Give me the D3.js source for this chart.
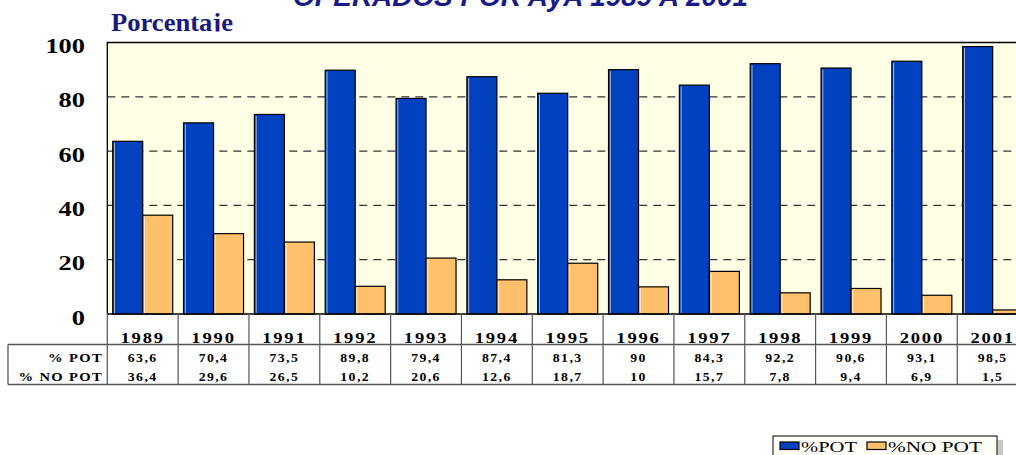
<!DOCTYPE html>
<html><head><meta charset="utf-8">
<script src="https://cdn.jsdelivr.net/npm/d3@7"></script>
<style>html,body{margin:0;padding:0;background:#fff;overflow:hidden}</style>
</head><body>
<svg id="c" width="1016" height="455"></svg>
<script>
const years = ["1989","1990","1991","1992","1993","1994","1995","1996","1997","1998","1999","2000","2001"];
const pot   = [63.6,70.4,73.5,89.8,79.4,87.4,81.3,90,84.3,92.2,90.6,93.1,98.5];
const noPot = [36.4,29.6,26.5,10.2,20.6,12.6,18.7,10,15.7,7.8,9.4,6.9,1.5];
const potLabels   = ["63,6","70,4","73,5","89,8","79,4","87,4","81,3","90","84,3","92,2","90,6","93,1","98,5"];
const noPotLabels = ["36,4","29,6","26,5","10,2","20,6","12,6","18,7","10","15,7","7,8","9,4","6,9","1,5"];
const yTicks = [0,20,40,60,80,100];
const seriesNames = ["% POT","% NO POT"];
const legendNames = ["%POT","%NO POT"];
const colors = ["#0041C0","#FFC06C"];

const svg = d3.select("#c");
const pLeft = 107.3, step = 70.83, pTop = 42.5, pBottom = 314;
const pRight = pLeft + step*years.length;

const x = d3.scaleBand().domain(years).range([pLeft,pRight]).paddingInner(0.153).paddingOuter(0.0765);
const xs = d3.scaleBand().domain([0,1]).range([0,x.bandwidth()]);
const y = d3.scaleLinear().domain([0,100]).range([pBottom,pTop]);

// horizontal stretch helper (reference glyphs are wide)
function stretch(sel, f){
  sel.each(function(){
    const w = this.getComputedTextLength();
    d3.select(this).attr("textLength", w*f).attr("lengthAdjust","spacingAndGlyphs");
  });
}

// plot background
svg.append("rect").attr("x",pLeft).attr("y",pTop).attr("width",pRight-pLeft).attr("height",pBottom-pTop).attr("fill","#FFFFE6");

// gridlines
svg.append("g").selectAll("line").data(yTicks.filter(d=>d>0 && d<100)).join("line")
  .attr("x1",pLeft).attr("x2",pRight).attr("y1",d=>y(d)).attr("y2",d=>y(d))
  .attr("stroke","#333").attr("stroke-width",1.2).attr("stroke-dasharray","8,6");

// bars
const data = years.map((yr,i)=>({yr, vals:[pot[i],noPot[i]]}));
const g = svg.append("g");
data.forEach(d=>{
  d.vals.forEach((v,k)=>{
    g.append("rect").attr("x",x(d.yr)+xs(k)).attr("y",y(v)).attr("width",xs.bandwidth()).attr("height",pBottom-y(v))
      .attr("fill",colors[k]).attr("stroke","#000").attr("stroke-width",1.2);
    g.append("line").attr("x1",x(d.yr)+xs(k)+1.8).attr("x2",x(d.yr)+xs(k)+1.8)
      .attr("y1",Math.min(y(v)+1.5,pBottom-1)).attr("y2",pBottom-1).attr("stroke","#fff").attr("stroke-width",0.8).attr("opacity",0.8);
  });
});

// plot border (top, left) and baseline
svg.append("path").attr("d",`M${pLeft},${pBottom}V${pTop}H${pRight}`).attr("fill","none").attr("stroke","#000").attr("stroke-width",1.3);
svg.append("line").attr("x1",pLeft).attr("x2",pRight).attr("y1",pBottom).attr("y2",pBottom).attr("stroke","#000").attr("stroke-width",1.3);

const serif = "'Liberation Serif','Times New Roman',serif";

// y tick labels
svg.append("g").selectAll("text").data(yTicks).join("text")
  .attr("x",85).attr("y",d=>y(d)+10.5).attr("text-anchor","end")
  .attr("font-family",serif).attr("font-weight","bold")
  .attr("font-size",22).attr("fill","#000").text(d=>d)
  .call(stretch,1.2);

// axis title (clipped descender)
svg.append("clipPath").attr("id","clipT").append("rect").attr("x",0).attr("y",0).attr("width",400).attr("height",31.5);
svg.append("text").attr("x",111).attr("y",30.5).attr("clip-path","url(#clipT)")
  .attr("font-family",serif).attr("font-weight","bold")
  .attr("font-size",26).attr("fill","#1A1A7E").text("Porcentaje")
  .attr("textLength",122).attr("lengthAdjust","spacingAndGlyphs");

// chart title (cut at top)
svg.append("text").attr("x",293).attr("y",6).attr("textLength",455).attr("lengthAdjust","spacingAndGlyphs")
  .attr("font-family","'Liberation Sans',Arial,sans-serif").attr("font-weight","bold").attr("font-style","italic")
  .attr("font-size",27).attr("fill","#1A1A8A").text("OPERADOS POR AyA 1989 A 2001");

// data table lines
const lineCol = "#555";
const tbl = svg.append("g");
const bounds = d3.range(years.length+1).map(i=>pLeft+i*step);
tbl.selectAll("line.v").data(bounds).join("line").attr("class","v")
  .attr("x1",d=>d).attr("x2",d=>d).attr("y1",pBottom).attr("y2",384.5).attr("stroke",lineCol).attr("stroke-width",1.2);
tbl.append("line").attr("x1",8).attr("x2",pRight).attr("y1",344.5).attr("y2",344.5).attr("stroke",lineCol).attr("stroke-width",1.3);
tbl.append("line").attr("x1",8).attr("x2",pRight).attr("y1",384.5).attr("y2",384.5).attr("stroke",lineCol).attr("stroke-width",1.3);
tbl.append("line").attr("x1",8).attr("x2",8).attr("y1",344.5).attr("y2",384.5).attr("stroke",lineCol).attr("stroke-width",1.3);

// year labels
tbl.selectAll("text.yr").data(years).join("text").attr("class","yr")
  .attr("x",d=>x(d)+x.bandwidth()/2).attr("y",343).attr("text-anchor","middle")
  .attr("font-family",serif).attr("font-weight","bold").attr("font-size",15.5).attr("letter-spacing",1.5)
  .attr("fill","#000").text(d=>d)
  .call(stretch,1.2);

// row labels
[[seriesNames[0],362],[seriesNames[1],380.5]].forEach(([t,yy])=>{
  tbl.append("text").attr("x",103).attr("y",yy).attr("text-anchor","end")
    .attr("font-family",serif).attr("font-weight","bold").attr("font-size",13).attr("letter-spacing",1.2)
    .attr("fill","#000").text(t)
    .call(stretch,1.12);
});
// values
[[potLabels,362],[noPotLabels,380.5]].forEach(([arr,yy])=>{
  tbl.append("g").selectAll("text").data(arr).join("text")
    .attr("x",(d,i)=>x(years[i])+x.bandwidth()/2).attr("y",yy).attr("text-anchor","middle")
    .attr("font-family",serif).attr("font-weight","bold").attr("font-size",12.5).attr("letter-spacing",1.3)
    .attr("fill","#000").text(d=>d)
    .call(stretch,1.1);
});

// legend
const lg = svg.append("g");
lg.append("rect").attr("x",997).attr("y",440).attr("width",6).attr("height",20).attr("fill","#C8C8C8");
lg.append("rect").attr("x",773).attr("y",436).attr("width",224).attr("height",25).attr("fill","#FFFFF8").attr("stroke","#000").attr("stroke-width",1);
const lx = [780,867], tx = [801,888], tl = [56,94];
legendNames.forEach((n,k)=>{
  lg.append("rect").attr("x",lx[k]).attr("y",442).attr("width",19).attr("height",7.5).attr("fill",colors[k]).attr("stroke","#000").attr("stroke-width",1.2);
  lg.append("text").attr("x",tx[k]).attr("y",451.5).attr("textLength",tl[k]).attr("lengthAdjust","spacingAndGlyphs")
    .attr("font-family",serif).attr("font-size",14).attr("fill","#000").text(n);
});
</script>
</body></html>
